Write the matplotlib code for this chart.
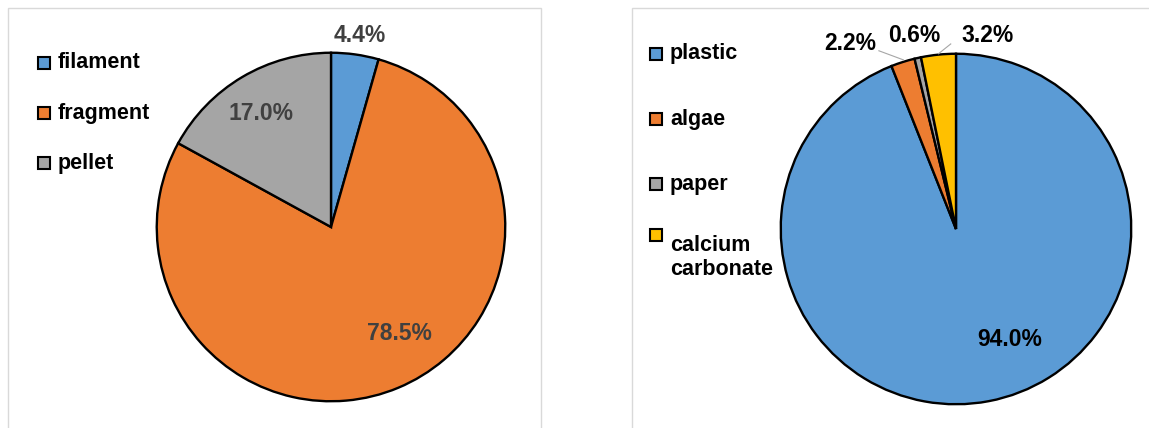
import matplotlib
matplotlib.use("Agg")
import matplotlib.pyplot as plt
from matplotlib.patches import Rectangle

# left chart: shape of particles
shape_labels = ["filament", "fragment", "pellet"]
shape_values = [4.4, 78.5, 17.0]

# right chart: material
material_labels = ["plastic", "algae", "paper", "calcium\ncarbonate"]
material_values = [94.0, 2.2, 0.6, 3.2]

colors_left = ["#5B9BD5", "#ED7D31", "#A5A5A5"]
colors_right = ["#5B9BD5", "#ED7D31", "#A5A5A5", "#FFC000"]

W, H = 1149, 428
plt.rcParams["font.family"] = ["Liberation Sans", "DejaVu Sans"]
plt.rcParams["font.weight"] = "bold"

fig = plt.figure(figsize=(W / 100, H / 100), dpi=100)


def fx(x):
    return x / W


def fy(y):
    return 1 - y / H


def pie_axes(cx, cy, r):
    return fig.add_axes([fx(cx - r), fy(cy + r), 2 * r / W, 2 * r / H])


# panel frames
fig.add_artist(Rectangle((fx(8), fy(440)), fx(541 - 8), (440 - 8) / H,
                         transform=fig.transFigure, fill=False, ec="#D9D9D9", lw=1))
fig.add_artist(Rectangle((fx(632), fy(440)), fx(1160 - 632), (440 - 8) / H,
                         transform=fig.transFigure, fill=False, ec="#D9D9D9", lw=1))


def draw_legend(labels, colors, x0, ys):
    for lab, c, y in zip(labels, colors, ys):
        fig.add_artist(Rectangle((fx(x0), fy(y + 6)), fx(12), 12 / H,
                                 transform=fig.transFigure, fc=c, ec="black", lw=1.5))
        fig.text(fx(x0 + 20), fy(y), lab, fontsize=15.5, fontweight="bold",
                 va="top" if "\n" in lab else "center", ha="left",
                 linespacing=1.2, color="black")


def draw_pie(ax, values, colors, label_pos, txt_color, leaders=None):
    it = iter(values)
    wedges, _, autotexts = ax.pie(values, colors=colors, startangle=90, counterclock=False,
                                  autopct=lambda p: f"{next(it):.1f}%", radius=1,
                                  wedgeprops=dict(edgecolor="black", linewidth=1.7),
                                  textprops=dict(fontsize=16.5, fontweight="bold", color=txt_color))
    for t, (px, py) in zip(autotexts, label_pos):
        t.set_position((px, py))
        t.set_clip_on(False)
    if leaders:
        for (x1, y1), (x2, y2) in leaders:
            ax.plot([x1, x2], [y1, y2], color="#A6A6A6", lw=0.8, clip_on=False)
    ax.set_xlim(-1.01, 1.01)
    ax.set_ylim(-1.01, 1.01)
    ax.axis("off")
    return wedges


# left pie
ax1 = pie_axes(331, 227, 176)
draw_pie(ax1, shape_values, colors_left,
         [(0.165, 1.10), (0.39, -0.61), (-0.40, 0.65)], "#404040")
draw_legend(shape_labels, colors_left, 38, [63, 113, 163])

# right pie
ax2 = pie_axes(956, 229, 177)
draw_pie(ax2, material_values, colors_right,
         [(0.305, -0.633), (-0.605, 1.06), (-0.24, 1.105), (0.178, 1.105)], "black",
         leaders=[((-0.44, 1.017), (-0.30, 0.965)), ((-0.03, 1.056), (-0.10, 1.00))])
draw_legend(material_labels, colors_right, 650, [54, 119, 184, 235])

fig.savefig("out.png", dpi=100)
